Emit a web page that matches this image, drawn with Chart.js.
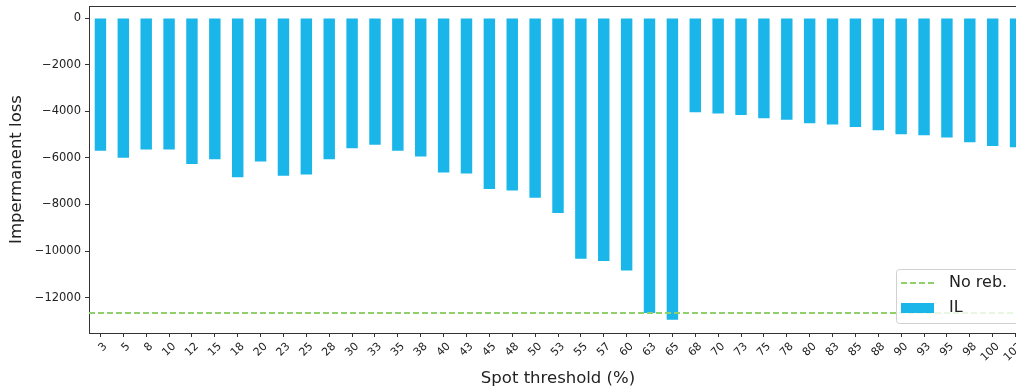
<!DOCTYPE html>
<html>
<head>
<meta charset="utf-8">
<script src="https://cdn.jsdelivr.net/npm/chart.js@4.4.1/dist/chart.umd.min.js"></script>
<style>
  html, body { margin: 0; padding: 0; background: #fff; overflow: hidden; }
  #wrap { width: 1040px; height: 390px; }
</style>
</head>
<body>
<div id="wrap"><canvas id="ilChart" width="1040" height="390"></canvas></div>
<script>
// spot thresholds (%) on the x axis
const thresholds = ['3', '5', '8', '10', '12', '15', '18', '20', '23', '25', '28', '30', '33', '35', '38',
    '40', '43', '45', '48', '50', '53', '55', '57', '60', '63', '65', '68', '70', '73', '75', '78',
    '80', '83', '85', '88', '90', '93', '95', '98', '100', '103'];

// impermanent loss per threshold
const ilValues = [-5700, -6000, -5640, -5640, -6260, -6060, -6830, -6160, -6770, -6710, -6060, -5590,
    -5440, -5700, -5940, -6630, -6670, -7340, -7400, -7710, -8370, -10330, -10430, -10840, -12660,
    -12950, -4040, -4100, -4160, -4300, -4360, -4510, -4570, -4670, -4810, -4990, -5030, -5130,
    -5330, -5490, -5540];

// no-rebalancing reference level
const noRebValue = -12660;

const yTicks = [0, -2000, -4000, -6000, -8000, -10000, -12000];

const BAR_COLOR = '#1ab6e9';
const LINE_COLOR = '#8fd06c';
const AXIS_COLOR = '#333333';
const FONT = "'DejaVu Sans', sans-serif";

// matplotlib-like frame (top spine) and legend inside the axes
const framePlugin = {
    id: 'frame',
    afterDraw(chart) {
        const { ctx, chartArea } = chart;
        ctx.save();
        ctx.strokeStyle = AXIS_COLOR;
        ctx.lineWidth = 1;
        ctx.beginPath();
        ctx.moveTo(chartArea.left, chartArea.top + 0.5);
        ctx.lineTo(chartArea.right, chartArea.top + 0.5);
        ctx.stroke();

        // legend box, lower right
        const w = 124, h = 54;
        const bx = chartArea.right - 7 - w;
        const by = chartArea.bottom - 10 - h;
        ctx.fillStyle = 'rgba(255,255,255,0.8)';
        ctx.strokeStyle = 'rgba(204,204,204,0.9)';
        ctx.beginPath();
        ctx.roundRect(bx + 0.5, by + 0.5, w, h, 3);
        ctx.fill();
        ctx.stroke();

        ctx.strokeStyle = LINE_COLOR;
        ctx.lineWidth = 2;
        ctx.setLineDash([6, 3]);
        ctx.beginPath();
        ctx.moveTo(bx + 5, by + 14);
        ctx.lineTo(bx + 38, by + 14);
        ctx.stroke();
        ctx.setLineDash([]);

        ctx.fillStyle = BAR_COLOR;
        ctx.fillRect(bx + 5, by + 34, 33, 10);

        ctx.fillStyle = '#222';
        ctx.font = '16px ' + FONT;
        ctx.textBaseline = 'middle';
        ctx.fillText('No reb.', bx + 53, by + 14);
        ctx.fillText('IL', bx + 53, by + 39);
        ctx.restore();
    }
};

new Chart(document.getElementById('ilChart'), {
    data: {
        labels: thresholds,
        datasets: [
            {
                type: 'bar',
                label: 'IL',
                data: ilValues,
                backgroundColor: BAR_COLOR,
                borderWidth: 0,
                grouped: false,
                barPercentage: 0.5,
                categoryPercentage: 1.0,
                xAxisID: 'x',
                order: 1
            },
            {
                type: 'line',
                label: 'No reb.',
                data: [{ x: -0.5, y: noRebValue }, { x: thresholds.length - 0.5, y: noRebValue }],
                borderColor: LINE_COLOR,
                borderWidth: 2,
                borderDash: [6, 3],
                pointRadius: 0,
                xAxisID: 'x2',
                order: 0
            }
        ]
    },
    options: {
        responsive: false,
        animation: false,
        layout: { padding: { top: 6, right: 13, left: 0, bottom: 0 } },
        plugins: {
            legend: { display: false },
            tooltip: { enabled: false }
        },
        scales: {
            x: {
                type: 'category',
                offset: true,
                grid: { drawOnChartArea: false, offset: false, color: AXIS_COLOR, tickLength: 4 },
                border: { color: AXIS_COLOR, width: 1 },
                ticks: {
                    autoSkip: false,
                    maxRotation: 45,
                    minRotation: 45,
                    padding: 3,
                    labelOffset: 5,
                    color: '#222',
                    font: { family: FONT, size: 11 }
                },
                title: {
                    display: true,
                    text: 'Spot threshold (%)',
                    color: '#222',
                    font: { family: FONT, size: 16.5 },
                    padding: { top: 0, bottom: 1 }
                },
                afterFit(scale) {
                    scale.height = 57;
                    scale.paddingLeft = 0;
                    scale.paddingRight = 0;
                }
            },
            x2: {
                type: 'linear',
                display: false,
                min: -0.5,
                max: thresholds.length - 0.5
            },
            y: {
                type: 'linear',
                min: -13520,
                max: 520,
                grid: { drawOnChartArea: false, color: AXIS_COLOR, tickLength: 4 },
                border: { color: AXIS_COLOR, width: 1 },
                afterBuildTicks(scale) { scale.ticks = yTicks.map(v => ({ value: v })); },
                ticks: {
                    color: '#222',
                    padding: 4,
                    font: { family: FONT, size: 11.5 },
                    callback: v => String(v).replace('-', '\u2212')
                },
                title: {
                    display: true,
                    text: 'Impermanent loss',
                    color: '#222',
                    font: { family: FONT, size: 16.5 },
                    padding: { top: 7, bottom: 0 }
                },
                afterFit(scale) {
                    scale.width = 89;
                    scale.paddingTop = 0;
                    scale.paddingBottom = 0;
                }
            }
        }
    },
    plugins: [framePlugin]
});
</script>
</body>
</html>
